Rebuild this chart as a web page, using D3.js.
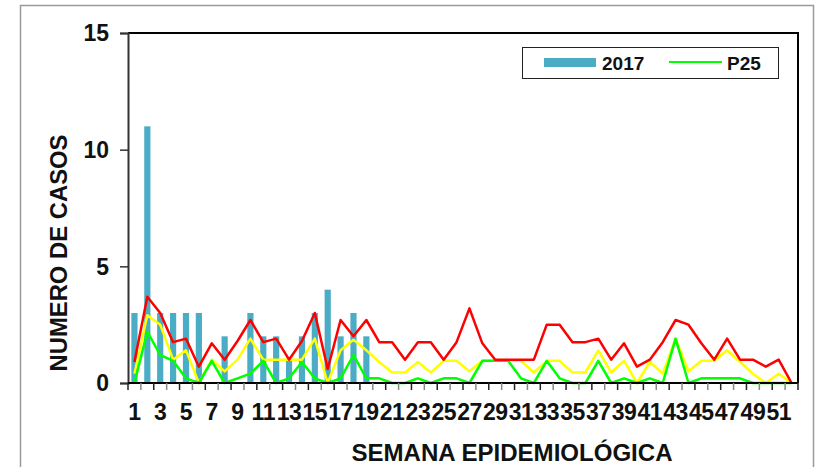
<!DOCTYPE html>
<html>
<head>
<meta charset="utf-8">
<script src="https://cdn.jsdelivr.net/npm/d3@7"></script>
<style>
  body { margin: 0; background: #fff; }
  svg { display: block; font-family: "Liberation Sans", Arial, sans-serif; }
</style>
</head>
<body>
<div id="chart"></div>
<script>
// semanas epidemiológicas 1..52
var weeks = d3.range(1, 53);
var tickLabels = weeks.filter(w => w % 2 === 1);

var cases2017 = [3, 11, 3, 3, 3, 3, 0, 2, 0, 3, 2, 2, 1, 2, 3, 4, 2, 3, 2,
    0, 0, 0, 0, 0, 0, 0, 0, 0, 0, 0, 0, 0, 0, 0, 0, 0, 0, 0, 0, 0,
    0, 0, 0, 0, 0, 0, 0, 0, 0, 0, 0, 0];

var p75 = [0.9, 3.7, 3.0, 1.75, 1.9, 0.7, 1.7, 1, 1.8, 2.7, 1.75, 1.9, 1, 1.8, 3.0, 0.6, 2.7, 2, 2.7,
    1.75, 1.75, 1, 1.75, 1.75, 1, 1.75, 3.2, 1.7, 1, 1, 1, 1, 2.5, 2.5, 1.75, 1.75, 1.9, 1, 1.7, 0.7,
    1, 1.75, 2.7, 2.5, 1.7, 1, 1.9, 1, 1, 0.7, 1, 0];

var p50 = [0.4, 2.9, 2.5, 1, 1.4, 0, 1, 0.5, 1, 1.9, 1, 1, 1, 1, 1.9, 0, 1.4, 1.85, 1.4,
    0.9, 0.45, 0.45, 0.9, 0.45, 0.95, 0.95, 0.5, 0.95, 0.95, 0.95, 0.95, 0.45, 0.95, 0.95, 0.45, 0.45, 1.4, 0.45, 0.95, 0,
    0.9, 0.4, 1.9, 0.5, 0.95, 0.95, 1.4, 0.9, 0.4, 0, 0.4, 0];

var p25 = [0, 2.2, 1.2, 0.95, 0.2, 0, 0.95, 0, 0.2, 0.4, 0.95, 0, 0.2, 0.9, 0.2, 0, 0.2, 1.2, 0.2,
    0.2, 0, 0, 0.2, 0, 0.2, 0.2, 0, 0.95, 0.95, 0.95, 0.2, 0, 0.95, 0.2, 0, 0, 0.95, 0, 0.2, 0,
    0.2, 0, 1.9, 0, 0.2, 0.2, 0.2, 0.2, 0, 0, 0, 0];

var width = 821, height = 467;
var margin = { top: 33, right: 23, bottom: 84, left: 128 };
var plotW = width - margin.left - margin.right;
var plotH = height - margin.top - margin.bottom;

var svg = d3.select("#chart").append("svg")
    .attr("width", width)
    .attr("height", height);

// marco exterior del gráfico
svg.append("rect")
    .attr("x", 20.5).attr("y", 5.5)
    .attr("width", 793).attr("height", 470)
    .attr("fill", "none")
    .attr("stroke", "#9a9a9a")
    .attr("stroke-width", 1.5);

var g = svg.append("g")
    .attr("transform", "translate(" + margin.left + "," + margin.top + ")");

var x = d3.scaleBand()
    .domain(weeks)
    .range([0, plotW])
    .paddingInner(0.52)
    .paddingOuter(0.26);

var xc = d3.scaleBand().domain(weeks).range([0, plotW]);

var y = d3.scaleLinear()
    .domain([0, 15])
    .range([plotH, 0]);

// borde del área de trazado
g.append("path")
    .attr("d", "M0,0H" + plotW + "V" + plotH)
    .attr("fill", "none")
    .attr("stroke", "#000")
    .attr("stroke-width", 2);

// barras 2017
g.selectAll(".bar")
    .data(weeks)
    .enter()
    .append("rect")
    .attr("class", "bar")
    .attr("x", d => x(d))
    .attr("y", (d, i) => y(cases2017[i]))
    .attr("width", x.bandwidth())
    .attr("height", (d, i) => plotH - y(cases2017[i]))
    .attr("fill", "#4bacc6");

var line = d3.line()
    .x((d, i) => xc(weeks[i]) + xc.bandwidth() / 2)
    .y(d => y(d));

[[p50, "#ffff00"], [p25, "#00ff00"], [p75, "#ff0000"]].forEach(function (s) {
    g.append("path")
        .datum(s[0])
        .attr("d", line)
        .attr("fill", "none")
        .attr("stroke", s[1])
        .attr("stroke-width", 2.5)
        .attr("stroke-linejoin", "round");
});

// eje Y
var yAxis = g.append("g")
    .call(d3.axisLeft(y).tickValues([0, 5, 10, 15]).tickSize(8).tickPadding(11));
yAxis.select(".domain").attr("stroke", "#333").attr("stroke-width", 2);
yAxis.selectAll(".tick line").attr("stroke", "#333").attr("stroke-width", 1.5);
yAxis.selectAll(".tick text")
    .attr("font-size", 23).attr("font-weight", "bold").attr("fill", "#111")
    .attr("transform", "scale(1,1.05)");

// eje X: marcas entre categorías
var xAxis = g.append("g").attr("transform", "translate(0," + plotH + ")");
xAxis.append("line")
    .attr("x1", 0).attr("x2", plotW)
    .attr("stroke", "#000").attr("stroke-width", 2);
xAxis.selectAll(".xt")
    .data(weeks.concat([53]))
    .enter()
    .append("line")
    .attr("x1", d => d <= 52 ? xc(d) : plotW)
    .attr("x2", d => d <= 52 ? xc(d) : plotW)
    .attr("y1", 0).attr("y2", 7)
    .attr("stroke", (d, i) => i % 2 ? "#888" : "#222")
    .attr("stroke-width", 1.5);
xAxis.selectAll(".xl")
    .data(tickLabels)
    .enter()
    .append("text")
    .attr("x", d => xc(d) + xc.bandwidth() / 2)
    .attr("y", 37)
    .attr("text-anchor", "middle")
    .attr("font-size", 23)
    .attr("font-weight", "bold")
    .attr("fill", "#111")
    .attr("letter-spacing", -0.5)
    .text(d => d);

// títulos de ejes
svg.append("text")
    .attr("x", 512).attr("y", 461)
    .attr("text-anchor", "middle")
    .attr("font-size", 24).attr("font-weight", "bold")
    .attr("fill", "#111")
    .attr("textLength", 321).attr("lengthAdjust", "spacingAndGlyphs")
    .text("SEMANA EPIDEMIOLÓGICA");

svg.append("text")
    .attr("transform", "translate(67,253) rotate(-90)")
    .attr("text-anchor", "middle")
    .attr("font-size", 24).attr("font-weight", "bold")
    .attr("fill", "#111")
    .attr("textLength", 237).attr("lengthAdjust", "spacingAndGlyphs")
    .text("NUMERO DE CASOS");

// leyenda
var legend = svg.append("g").attr("transform", "translate(522,47)");
legend.append("rect")
    .attr("x", 0.5).attr("y", 0.5)
    .attr("width", 256).attr("height", 31)
    .attr("fill", "#fff")
    .attr("stroke", "#222").attr("stroke-width", 1);
legend.append("rect")
    .attr("x", 22).attr("y", 11)
    .attr("width", 52).attr("height", 9)
    .attr("fill", "#4bacc6");
legend.append("text")
    .attr("x", 80).attr("y", 22.5)
    .attr("font-size", 19).attr("font-weight", "bold").attr("fill", "#111")
    .text("2017");
legend.append("line")
    .attr("x1", 147).attr("x2", 200)
    .attr("y1", 15).attr("y2", 15)
    .attr("stroke", "#00ff00").attr("stroke-width", 2);
legend.append("text")
    .attr("x", 205).attr("y", 22.5)
    .attr("font-size", 19).attr("font-weight", "bold").attr("fill", "#111")
    .text("P25");
</script>
</body>
</html>
